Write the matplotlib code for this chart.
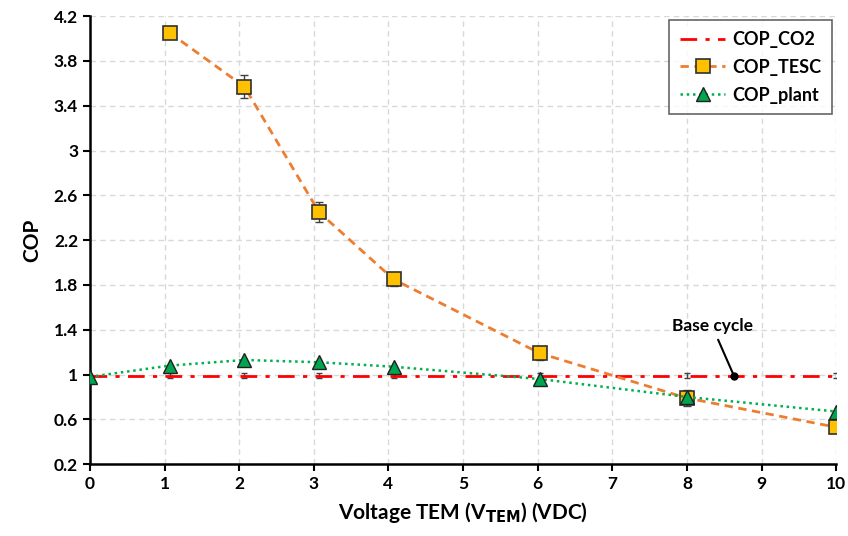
import matplotlib
matplotlib.use("Agg")
import matplotlib.pyplot as plt
import numpy as np

plt.rcParams['font.family'] = ['Lato', 'DejaVu Sans']
plt.rcParams['font.weight'] = 'bold'

# Data
x_co2 = [0, 1.07, 2.07, 3.07, 4.07, 6.03, 8, 10]
y_co2 = [0.99, 0.99, 0.99, 0.99, 0.99, 0.99, 0.99, 0.99]
e_co2 = [0.0, 0.02, 0.02, 0.02, 0.02, 0.02, 0.02, 0.02]

x_tesc = [1.07, 2.07, 3.07, 4.07, 6.03, 8, 10]
y_tesc = [4.05, 3.57, 2.45, 1.85, 1.19, 0.79, 0.53]
e_tesc = [0.0, 0.1, 0.09, 0.06, 0.06, 0.07, 0.0]

x_plant = [0, 1.07, 2.07, 3.07, 4.07, 6.03, 8, 10]
y_plant = [0.98, 1.08, 1.13, 1.11, 1.07, 0.96, 0.80, 0.67]

xticks = [0, 1, 2, 3, 4, 5, 6, 7, 8, 9, 10]
yticks = [0.2, 0.6, 1, 1.4, 1.8, 2.2, 2.6, 3, 3.4, 3.8, 4.2]
ytick_labels = ['0.2', '0.6', '1', '1.4', '1.8', '2.2', '2.6', '3', '3.4', '3.8', '4.2']

base_x, base_y = 8.63, 0.99

fig = plt.figure(figsize=(8.48, 5.36), dpi=100)
ax = fig.add_axes([0.106, 0.134, 0.880, 0.836])

ax.errorbar(x_co2, y_co2, yerr=e_co2, fmt='none', ecolor='#404040', elinewidth=1, capsize=2.5, zorder=2)
l1, = ax.plot(x_co2, y_co2, color='#FF0000', linestyle=(0, (6, 3, 1.5, 3)), linewidth=2, label='COP_CO2', zorder=3)

ax.errorbar(x_tesc, y_tesc, yerr=e_tesc, fmt='none', ecolor='#404040', elinewidth=1, capsize=3, zorder=2)
l2, = ax.plot(x_tesc, y_tesc, color='#ED7D31', linestyle=(0, (3, 2)), linewidth=2,
              marker='s', markersize=10, markerfacecolor='#FFC000', markeredgecolor='#303030',
              markeredgewidth=1.2, label='COP_TESC', zorder=4)

l3, = ax.plot(x_plant, y_plant, color='#00B050', linestyle=(0, (1, 1.5)), linewidth=1.8,
              marker='^', markersize=10, markerfacecolor='#00A550', markeredgecolor='#202020',
              markeredgewidth=1.0, label='COP_plant', zorder=5)

ax.plot([base_x], [base_y], 'o', color='black', markersize=5, zorder=6)
ax.annotate('Base cycle', xy=(base_x, base_y), xytext=(8.34, 1.43),
            ha='center', va='center', fontsize=12.5, fontweight='bold',
            arrowprops=dict(arrowstyle='-', color='black', lw=1.5, shrinkA=2, shrinkB=0))

ax.set_xlim(0, 10)
ax.set_ylim(0.2, 4.2)
ax.set_xticks(xticks)
ax.set_yticks(yticks)
ax.set_yticklabels(ytick_labels)
ax.tick_params(axis='both', labelsize=12.5, width=1.5, length=5, direction='out')
for lab in ax.get_xticklabels() + ax.get_yticklabels():
    lab.set_fontweight('bold')

ax.grid(True, color='#D9D9D9', linestyle=(0, (4, 3)), linewidth=1)
ax.set_axisbelow(True)
for s in ['top', 'right']:
    ax.spines[s].set_visible(False)
for s in ['left', 'bottom']:
    ax.spines[s].set_linewidth(1.8)

ax.set_xlabel(r'Voltage TEM (V$_{\mathbf{TEM}}$) (VDC)', fontsize=15, fontweight='bold', labelpad=6)
ax.set_ylabel('COP', fontsize=15, fontweight='bold', labelpad=8)

leg = ax.legend(handles=[l1, l2, l3], loc='upper right', bbox_to_anchor=(0.995, 0.991),
                borderaxespad=0.0,
                fontsize=13, frameon=True, fancybox=False, edgecolor='#404040',
                handlelength=2.5, handletextpad=0.4, borderpad=0.6, labelspacing=0.6)
leg.get_frame().set_linewidth(1.2)
for t in leg.get_texts():
    t.set_fontweight('bold')

fig.savefig('out.png', dpi=100)
